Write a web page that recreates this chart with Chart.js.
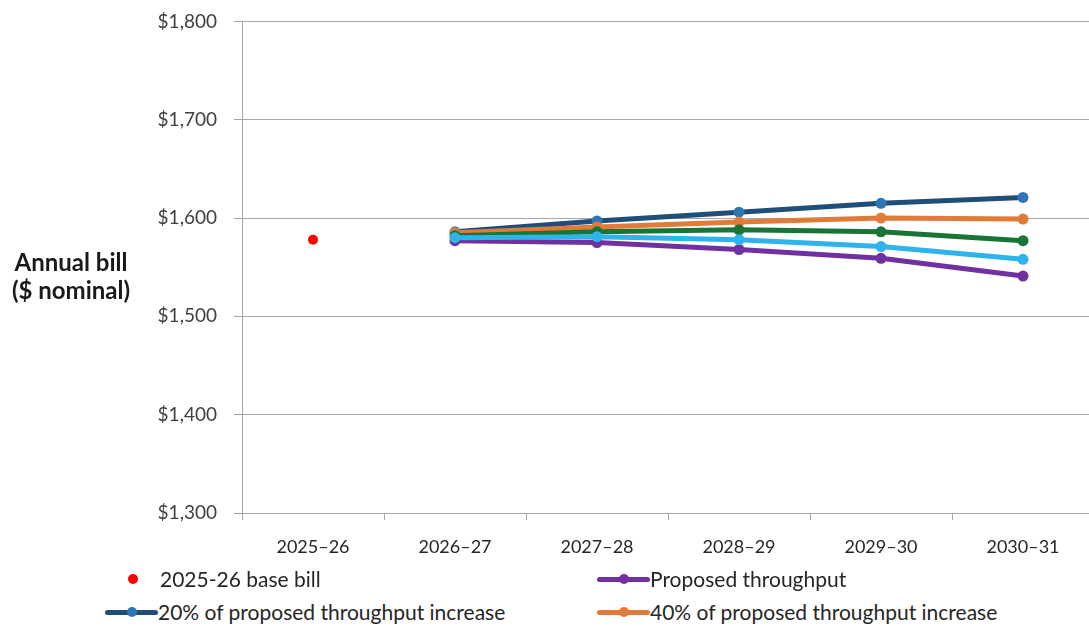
<!DOCTYPE html>
<html>
<head>
<meta charset="utf-8">
<script src="https://cdn.jsdelivr.net/npm/chart.js@4.4.1/dist/chart.umd.min.js"></script>
<style>
    html, body { margin: 0; padding: 0; background: #fff; overflow: hidden; width: 1089px; height: 626px; }
    #wrap { position: absolute; left: 0; top: -7px; width: 1096px; height: 577px; }
    #billChart { width: 1096px; height: 577px; }
    #ytitle { position: absolute; left: 0; top: 248px; width: 142px; text-align: center;
        font: bold 24px Lato, sans-serif; color: #1a1a1a; line-height: 28px; }
    .lg { position: absolute; font: 21px Lato, sans-serif; color: #262626; white-space: nowrap; line-height: 24px; }
    .sw { position: absolute; height: 5px; border-radius: 3px; }
    .dot { position: absolute; width: 10px; height: 10px; border-radius: 50%; }
</style>
</head>
<body>
<div id="wrap"><canvas id="billChart" width="1096" height="577"></canvas></div>
<div id="ytitle">Annual bill<br>($ nominal)</div>
<div id="legend"></div>

<script>
const categories = ['2025\u201326', '2026\u201327', '2027\u201328', '2028\u201329', '2029\u201330', '2030\u201331'];
const baseBill = [1578, null, null, null, null, null];
const proposed = [null, 1577, 1575, 1568, 1559, 1541];
const pct20 = [null, 1586, 1597, 1606, 1615, 1621];
const pct40 = [null, 1585, 1591, 1596, 1600, 1599];
const pct60 = [null, 1582, 1586, 1588, 1586, 1577];
const pct80 = [null, 1580, 1581, 1578, 1571, 1558];
const yTicks = [1300, 1400, 1500, 1600, 1700, 1800];

const gridColor = '#a6a6a6';

function lineSet(label, data, color, pointColor, order) {
    return {
        label: label,
        data: data,
        borderColor: color,
        backgroundColor: pointColor || color,
        pointBackgroundColor: pointColor || color,
        pointBorderColor: pointColor || color,
        borderWidth: 5,
        pointRadius: 5.5,
        pointBorderWidth: 0,
        tension: 0,
        order: order
    };
}

const ctx = document.getElementById('billChart').getContext('2d');
new Chart(ctx, {
    type: 'line',
    data: {
        labels: categories,
        datasets: [
            {
                label: '2025-26 base bill',
                data: baseBill,
                showLine: false,
                pointRadius: 5,
                pointBorderWidth: 0,
                pointBackgroundColor: '#ff0000',
                pointBorderColor: '#ff0000',
                order: 0
            },
            lineSet('Proposed throughput', proposed, '#7030a0', null, 5),
            lineSet('20% of proposed throughput increase', pct20, '#1f4e79', '#2e75b6', 4),
            lineSet('40% of proposed throughput increase', pct40, '#e07b39', null, 3),
            lineSet('60% of proposed throughput increase', pct60, '#1a7436', null, 2),
            lineSet('80% of proposed throughput increase', pct80, '#2db4ea', null, 1)
        ]
    },
    options: {
        responsive: false,
        animation: false,
        layout: { autoPadding: false, padding: { left: 0, top: 28, right: 2, bottom: 0 } },
        plugins: {
            legend: { display: false },
            tooltip: { enabled: false }
        },
        scales: {
            x: {
                offset: true,
                grid: { offset: true, drawOnChartArea: false, drawTicks: true, tickLength: 7, color: gridColor },
                border: { display: true, color: gridColor },
                ticks: { font: { family: 'Lato, sans-serif', size: 18 }, color: '#262626', padding: 16, maxRotation: 0 },
                afterFit: function (scale) { scale.height = 57; }
            },
            y: {
                min: 1300,
                max: 1800,
                afterBuildTicks: function (scale) { scale.ticks = yTicks.map(v => ({ value: v })); },
                grid: { color: gridColor, tickLength: 8 },
                border: { display: true, color: gridColor },
                ticks: {
                    font: { family: 'Lato, sans-serif', size: 19 },
                    color: '#404040',
                    padding: 17,
                    callback: function (value) { return '$' + value.toLocaleString('en-US'); }
                },
                afterFit: function (scale) { scale.width = 242; }
            }
        }
    }
});

// legend, two columns like the original
const legendItems = [
    { text: '2025-26 base bill', color: '#ff0000', type: 'dot', x: 160, y: 567, sw: 133 },
    { text: 'Proposed throughput', color: '#7030a0', point: '#7030a0', type: 'line', x: 650, y: 567, sw: 597 },
    { text: '20% of proposed throughput increase', color: '#1f4e79', point: '#2e75b6', type: 'line', x: 158, y: 600, sw: 105 },
    { text: '40% of proposed throughput increase', color: '#e07b39', point: '#e07b39', type: 'line', x: 650, y: 600, sw: 597 }
];

const legend = document.getElementById('legend');
legendItems.forEach(item => {
    const label = document.createElement('div');
    label.className = 'lg';
    label.style.left = item.x + 'px';
    label.style.top = item.y + 'px';
    label.textContent = item.text;
    legend.appendChild(label);

    const cy = item.y + 12;
    if (item.type === 'dot') {
        const d = document.createElement('div');
        d.className = 'dot';
        d.style.background = item.color;
        d.style.left = (item.sw - 5) + 'px';
        d.style.top = (cy - 5) + 'px';
        legend.appendChild(d);
    } else {
        const w = item.x - item.sw;
        const s = document.createElement('div');
        s.className = 'sw';
        s.style.background = item.color;
        s.style.left = item.sw + 'px';
        s.style.width = w + 'px';
        s.style.top = (cy - 2.5) + 'px';
        legend.appendChild(s);
        const d = document.createElement('div');
        d.className = 'dot';
        d.style.background = item.point;
        d.style.left = (item.sw + w / 2 - 5) + 'px';
        d.style.top = (cy - 5) + 'px';
        legend.appendChild(d);
    }
});
</script>
</body>
</html>
